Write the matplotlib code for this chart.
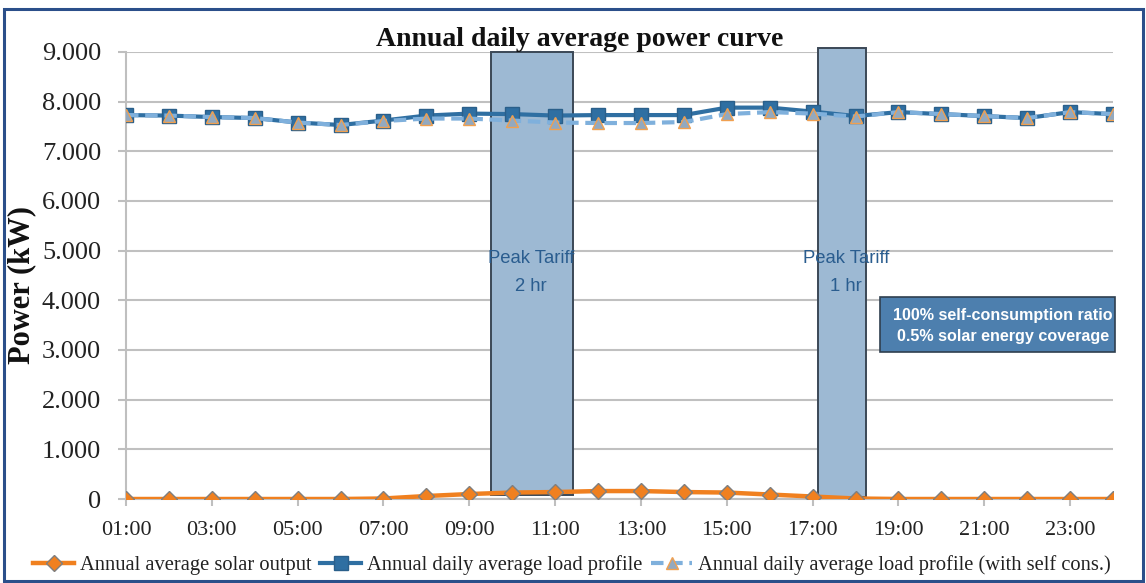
import matplotlib
matplotlib.use("Agg")
import matplotlib.pyplot as plt
from matplotlib.patches import Rectangle
from matplotlib.ticker import FuncFormatter, FixedLocator

hours = ["01:00", "02:00", "03:00", "04:00", "05:00", "06:00", "07:00", "08:00",
         "09:00", "10:00", "11:00", "12:00", "13:00", "14:00", "15:00", "16:00",
         "17:00", "18:00", "19:00", "20:00", "21:00", "22:00", "23:00", "24:00"]

solar = [0, 0, 0, 0, 0, 0, 10, 60, 100, 130, 140, 160, 160, 140, 130, 90, 50, 10,
         0, 0, 0, 0, 0, 0]
load = [7730, 7720, 7690, 7670, 7580, 7530, 7620, 7720, 7760, 7750, 7720, 7730,
        7730, 7730, 7880, 7880, 7800, 7710, 7790, 7750, 7710, 7670, 7790, 7750]
load_self = [7730, 7720, 7690, 7670, 7580, 7530, 7610, 7660, 7660, 7620, 7580, 7570,
             7570, 7590, 7750, 7790, 7760, 7700, 7790, 7750, 7710, 7670, 7790, 7750]

peak_labels = ["Peak Tariff\n2 hr", "Peak Tariff\n1 hr"]
peak_start = [8.51, 16.13]
peak_end = [10.42, 17.25]
peak_bottom = [90, 40]
peak_top = [9000, 9080]

title = "Annual daily average power curve"
ylabel = "Power (kW)"
info_text = "100% self-consumption ratio\n0.5% solar energy coverage"
legend_labels = ["Annual average solar output", "Annual daily average load profile",
                 "Annual daily average load profile (with self cons.)"]

W, H = 1146, 583
fig = plt.figure(figsize=(W / 100, H / 100), dpi=100)
serif = ["Liberation Serif", "DejaVu Serif"]
sans = ["Liberation Sans", "DejaVu Sans"]

ax = fig.add_axes([126 / W, (H - 499) / H, (1113 - 126) / W, (499 - 52) / H])
x = list(range(len(hours)))

# peak tariff boxes
for s, e, b, t in zip(peak_start, peak_end, peak_bottom, peak_top):
    ax.bar(s, t - b, width=e - s, bottom=b, align="edge", color="#9db9d3",
           edgecolor="#3b4856", linewidth=1.4, zorder=2, clip_on=False)

l_solar, = ax.plot(x, solar, color="#f0801f", lw=3.2, marker="D", ms=8.5,
                   mfc="#f0801f", mec="#7f7f7f", mew=1.0, zorder=4)
l_load, = ax.plot(x, load, color="#2f6fa2", lw=3.0, marker="s", ms=9.5,
                  mfc="#2f6fa2", mec="#2a5f8a", mew=1.0, zorder=5)
l_self, = ax.plot(x, load_self, color="#7fb0dc", lw=3.0, ls=(0, (3, 1.6)),
                  marker="^", ms=9, mfc="#93a9bf", mec="#f0a050", mew=1.0, zorder=6)

ax.set_xlim(0, len(hours) - 1)
ax.set_ylim(0, 9000)
ax.yaxis.set_major_locator(FixedLocator(range(0, 9001, 1000)))
ax.yaxis.set_major_formatter(FuncFormatter(
    lambda v, p: "0" if v == 0 else f"{int(round(v)):,}".replace(",", ".")))
ax.set_xticks(x[::2])
ax.set_xticklabels(hours[::2])
ax.grid(axis="y", color="#c0c0c0", lw=1.5, zorder=1)
ax.set_axisbelow(True)
for sp in ["top", "right"]:
    ax.spines[sp].set_visible(False)
ax.spines["left"].set_color("#bfbfbf")
ax.spines["left"].set_linewidth(1.5)
ax.spines["bottom"].set_color("#bfbfbf")
ax.spines["bottom"].set_linewidth(1.5)
ax.tick_params(axis="y", length=6, width=1.5, color="#bfbfbf", pad=12,
               labelsize=19, labelcolor="#222222")
ax.tick_params(axis="x", length=5, width=1.5, color="#bfbfbf", pad=11,
               labelsize=16, labelcolor="#222222")
for lab in ax.get_xticklabels() + ax.get_yticklabels():
    lab.set_family(serif)

# peak tariff texts
peak_text_x = [9.44, 16.78]
for lbl, px in zip(peak_labels, peak_text_x):
    ax.text(px, 4560, lbl, ha="center", va="center", fontsize=13.3,
            color="#2a5d8f", family=sans, linespacing=1.85, zorder=7)

# info box
fig.patches.append(Rectangle((880 / W, (H - 352) / H), 235 / W, 55 / H,
                             transform=fig.transFigure, facecolor="#4d7fae",
                             edgecolor="#2f3f4f", lw=1.2, zorder=10))
fig.text(1003 / W, (H - 326) / H, info_text, ha="center", va="center",
         fontsize=11.6, fontweight="bold", color="white", family=sans,
         linespacing=1.55, zorder=11)

fig.text(580 / W, (H - 40) / H, title, ha="center", va="center", fontsize=20,
         fontweight="bold", family=serif, color="#111111")
fig.text(22 / W, (H - 285) / H, ylabel, ha="center", va="center", rotation=90,
         fontsize=22, fontweight="bold", family=serif, color="#111111")

leg = fig.legend([l_solar, l_load, l_self], legend_labels, loc="center",
                 bbox_to_anchor=(572 / W, (H - 565) / H), ncol=3, frameon=False,
                 prop={"family": serif, "size": 14.8}, handlelength=2.0,
                 handletextpad=0.3, columnspacing=0.4, borderpad=0)
for t in leg.get_texts():
    t.set_color("#222222")

# outer frame
fig.patches.append(Rectangle((4 / W, 2 / H), 1139 / W, (H - 11) / H,
                             transform=fig.transFigure, fill=False,
                             edgecolor="#2b4f8a", lw=2.2, zorder=20))

fig.savefig("out.png", dpi=100)
